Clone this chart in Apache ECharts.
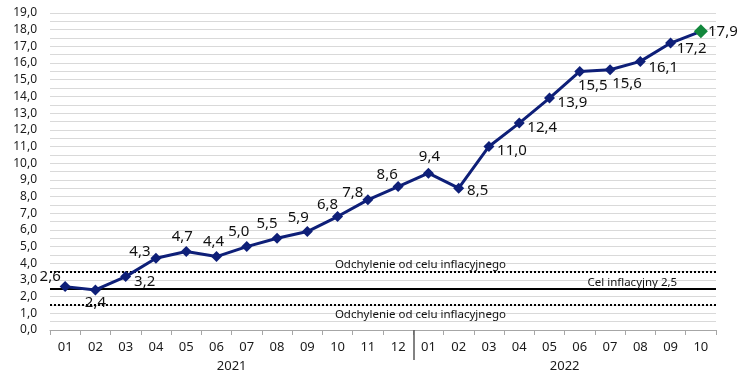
<!DOCTYPE html>
<html>
<head>
<meta charset="utf-8">
<script src="https://cdn.jsdelivr.net/npm/echarts@6/dist/echarts.min.js"></script>
<style>
html,body{margin:0;padding:0;background:#fff;}
#chart{width:750px;height:384px;}
</style>
</head>
<body>
<div id="chart"></div>
<script>
// ---- data ----
const months = ['01','02','03','04','05','06','07','08','09','10','11','12',
                '01','02','03','04','05','06','07','08','09','10'];
const years = ['2021', '2022'];
const monthsPerYear = [12, 10];
const inflation = [2.6, 2.4, 3.2, 4.3, 4.7, 4.4, 5.0, 5.5, 5.9, 6.8, 7.8, 8.6,
                   9.4, 8.5, 11.0, 12.4, 13.9, 15.5, 15.6, 16.1, 17.2, 17.9];
const targetValue = 2.5;
const upperBand = 3.5;
const lowerBand = 1.5;
const bandLabel = 'Odchylenie od celu inflacyjnego';
const targetLabel = 'Cel inflacyjny 2,5';
const yTicks = { min: 0, max: 19, step: 1 };

// ---- styles (label placement per point, relative offsets) ----
const labelOffsets = [
  [-15,-10],[0,13],[19,5],[-16,-7],[-4,-15],[-3,-15],[-8,-15],[-10,-15],[-9,-14],[-10,-12],[-15,-7],[-11,-12],
  [1,-16],[19,3],[23,4],[23,5],[23,5],[13,14],[17,14],[23,6],[21,6],[22,0]
];
const fmt = v => v.toFixed(1).replace('.', ',');
const FONT = 'Noto Sans';
const NAVY = '#0e1f78';

const seriesData = inflation.map((v, i) => {
  const item = {
    value: v,
    label: { offset: labelOffsets[i] }
  };
  if (i === inflation.length - 1) {
    item.itemStyle = { color: '#12873c' };
    item.symbolSize = 14;
  }
  return item;
});

// year label centres and boundaries on a helper value axis (units = months)
const yearCenters = [];
const yearBounds = [];
let acc = 0;
monthsPerYear.forEach((n, i) => {
  yearCenters.push(acc + n / 2);
  acc += n;
  if (i < monthsPerYear.length - 1) yearBounds.push(acc);
});

const chart = echarts.init(document.getElementById('chart'), null, { renderer: 'canvas' });
chart.setOption({
  animation: false,
  textStyle: { fontFamily: FONT },
  grid: { left: 50, right: 34, top: 13, bottom: 54 },
  xAxis: [
    {
      type: 'category',
      data: months,
      boundaryGap: true,
      axisLine: { lineStyle: { color: '#a6a6a6', width: 1 } },
      axisTick: { show: true, length: 5, lineStyle: { color: '#a6a6a6' } },
      axisLabel: { color: '#1a1a1a', fontSize: 13, margin: 11, fontFamily: FONT },
      splitLine: { show: false }
    },
    {
      type: 'value',
      min: 0,
      max: acc,
      position: 'bottom',
      axisLine: { show: false },
      axisTick: { show: true, customValues: yearBounds, length: 30, lineStyle: { color: '#595959', width: 1.5 } },
      axisLabel: {
        show: true,
        customValues: yearCenters,
        margin: 30,
        fontSize: 13,
        color: '#1a1a1a',
        fontFamily: FONT,
        formatter: v => years[yearCenters.indexOf(v)] || ''
      },
      splitLine: { show: false }
    }
  ],
  yAxis: {
    type: 'value',
    min: yTicks.min,
    max: yTicks.max,
    interval: yTicks.step,
    axisLine: { show: false },
    axisTick: { show: false },
    axisLabel: { color: '#1a1a1a', fontSize: 12, margin: 13, formatter: fmt, fontFamily: FONT },
    splitLine: { lineStyle: { color: '#d9d9d9', width: 1 } },
    minorTick: { show: false, splitNumber: 2 },
    minorSplitLine: { show: true, lineStyle: { color: '#d9d9d9', width: 1 } }
  },
  series: [
    {
      type: 'line',
      data: seriesData,
      xAxisIndex: 0,
      symbol: 'diamond',
      symbolSize: 11,
      lineStyle: { color: NAVY, width: 3 },
      itemStyle: { color: NAVY },
      z: 5,
      label: {
        show: true,
        position: 'inside',
        formatter: p => fmt(p.value),
        color: '#111',
        fontSize: 15,
        fontFamily: FONT
      },
      markLine: {
        silent: true,
        symbol: 'none',
        z: 3,
        label: { show: false },
        data: [
          { yAxis: upperBand, lineStyle: { type: [2, 2], color: '#000', width: 2 } },
          { yAxis: targetValue, lineStyle: { type: 'solid', color: '#000', width: 2 } },
          { yAxis: lowerBand, lineStyle: { type: [2, 2], color: '#000', width: 2 } }
        ]
      },
      markPoint: {
        silent: true,
        symbol: 'circle',
        symbolSize: 0,
        label: { show: true, position: 'inside', color: '#111', fontSize: 11.5, fontFamily: FONT },
        data: [
          { coord: [12, upperBand], label: { formatter: bandLabel, offset: [-8, -7] } },
          { coord: [19, targetValue], label: { formatter: targetLabel, offset: [-8, -6] } },
          { coord: [12, lowerBand], label: { formatter: bandLabel, offset: [-8, 10] } }
        ]
      }
    }
  ]
});
</script>
</body>
</html>
